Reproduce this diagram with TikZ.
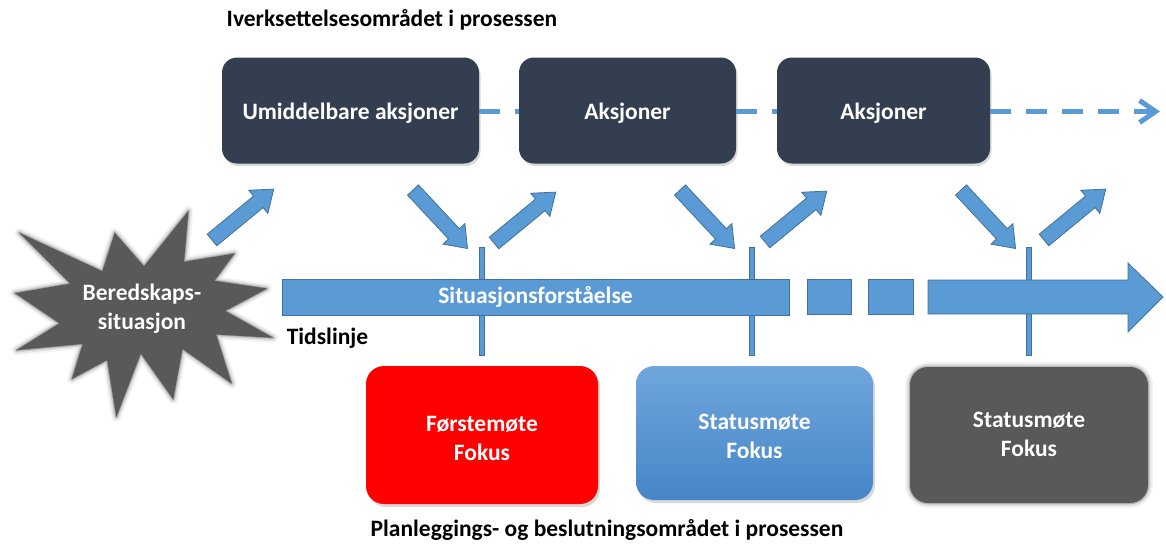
\documentclass[tikz,border=0pt]{standalone}
\usepackage{fontspec}
\setmainfont{Carlito}
\usetikzlibrary{arrows.meta,shadows}
\definecolor{darkbox}{HTML}{333F50}
\definecolor{ablue}{HTML}{5B9BD5}
\definecolor{ablueline}{HTML}{41719C}
\definecolor{starg}{HTML}{595959}
\definecolor{btop}{HTML}{6FA6DD}
\definecolor{bbot}{HTML}{4686C8}
\definecolor{redbox}{HTML}{FF0000}
\newcommand\burstpath{(108,58) -- (145.22,0) -- (141.55,53.25) -- (183.80,44.57) -- (167.02,73.15) -- (210.97,81.37) -- (176.07,104.75) -- (216,132.90) -- (168.37,129.42) -- (181.45,180.95) -- (140.20,144.57) -- (132.47,197.37) -- (105.32,149.35) -- (84.85,216) -- (77.15,156.27) -- (47.62,176.17) -- (56.67,139.37) -- (1.35,145.87) -- (37.22,117.75) -- (0,86.15) -- (46.27,76.17) -- (3.70,22.95) -- (73.12,63.20) -- (83.52,22.95) -- cycle}
\tikzset{
  barrow/.pic={\filldraw[fill=ablue, draw=ablueline, line width=0.8pt, line join=miter]
     (0,-7.5) -- (60,-7.5) -- (60,-15) -- (80,0) -- (60,15) -- (60,7.5) -- (0,7.5) -- cycle;},
  lbl/.style={font=\fontsize{23.5}{29}\selectfont\bfseries, text=white, align=center},
  ttl/.style={font=\fontsize{23.5}{29}\selectfont\bfseries, text=black, inner sep=0pt},
  actbox/.style={rounded corners=15pt, fill=darkbox, minimum height=106pt, inner sep=0pt,
     drop shadow={shadow xshift=1.5pt, shadow yshift=-2.5pt, opacity=0.3}},
  meetbox/.style={lbl, rounded corners=18pt, inner sep=0pt,
     drop shadow={shadow xshift=2pt, shadow yshift=-3pt, opacity=0.3}},
  bluepart/.style={fill=ablue, draw=ablueline, line width=0.8pt, inner sep=0pt},
  dashline/.style={draw=ablue, line width=5pt, dash pattern=on 21pt off 15pt},
}
\begin{document}
\begin{tikzpicture}[x=1pt,y=1pt]
\path[use as bounding box] (0,0) rectangle (1166,-546);

% titles
\node[ttl] (t1) at (392,-20) {Iverksettelsesområdet i prosessen};
\node[ttl] (t2) at (607,-530) {Planleggings- og beslutningsområdet i prosessen};

% action boxes
\node[actbox, minimum width=257pt] (b1) at (350.5,-110.5) {};
\node[actbox, minimum width=217pt] (b2) at (627.5,-110.5) {};
\node[actbox, minimum width=213pt] (b3) at (883.5,-110.5) {};
\node[lbl] (b1t) at ([yshift=-2.5pt]b1.center) {Umiddelbare aksjoner};
\node[lbl] (b2t) at ([yshift=-2.5pt]b2.center) {Aksjoner};
\node[lbl] (b3t) at ([yshift=-2.5pt]b3.center) {Aksjoner};
\coordinate (dend) at (1160,-111.5);
\draw[dashline] ([yshift=-1pt]b1.east) -- ([yshift=-1pt]b2.west);
\draw[dashline] ([yshift=-1pt]b2.east) -- ([yshift=-1pt]b3.west);
\draw[dashline, -{Straight Barb[length=16pt,width=22pt]}] ([yshift=-1pt]b3.east) -- (dend);

% starburst
\begin{scope}[shift={(15,-211)}, xscale=1.1944, yscale=-0.9537]
  \draw[starg, line width=10pt, opacity=0.06, line join=round] \burstpath;
  \draw[starg, line width=7pt, opacity=0.1, line join=round] \burstpath;
  \draw[starg, line width=4pt, opacity=0.2, line join=round] \burstpath;
  \draw[starg, line width=1.5pt, opacity=0.4, line join=round] \burstpath;
  \fill[starg] \burstpath;
\end{scope}
\node[lbl, text=black!70, opacity=0.5] at (143,-310) {Beredskaps-\\situasjon};
\node[lbl] (star) at (142,-309) {Beredskaps-\\situasjon};

% ticks (behind the timeline)
\node[bluepart, minimum width=5pt, minimum height=108pt] (k1) at (481.5,-301) {};
\node[bluepart, minimum width=5pt, minimum height=108pt] (k2) at (751.5,-301) {};
\node[bluepart, minimum width=5pt, minimum height=108pt] (k3) at (1028.5,-301) {};

% timeline
\node[bluepart, lbl, minimum width=507pt, minimum height=36pt] (bar) at (535.5,-297) {Situasjonsforståelse};
\node[bluepart, minimum width=44pt, minimum height=35pt] (sq1) at (829,-296.5) {};
\node[bluepart, minimum width=45pt, minimum height=35pt] (sq2) at (890.5,-296.5) {};
\filldraw[fill=ablue, draw=ablueline, line width=0.8pt]
  (928,-280) -- (1128,-280) -- (1128,-263) -- (1163,-297) -- (1128,-332) -- (1128,-314) -- (928,-314) -- cycle;
\node[ttl] (tl) at (327.5,-338) {Tidslinje};

% block arrows
\pic[rotate=39.5] at (212,-240) {barrow};
\pic[rotate=-47] at (413,-190) {barrow};
\pic[rotate=39.5] at (494,-243) {barrow};
\pic[rotate=-47] at (680,-190) {barrow};
\pic[rotate=39.5] at (765,-242) {barrow};
\pic[rotate=-47] at (961,-190) {barrow};
\pic[rotate=39.5] at (1044,-240) {barrow};

% meeting boxes
\node[meetbox, fill=redbox, minimum width=232pt, minimum height=138pt] (m1) at (482,-435) {};
\node[lbl] (m1t) at ([yshift=-3pt]m1.center) {Førstemøte\\Fokus};
\node[meetbox, top color=btop, bottom color=bbot, minimum width=237pt, minimum height=134pt] (m2) at (754.5,-433) {};
\node[lbl] (m2t) at ([yshift=-3pt]m2.center) {Statusmøte\\Fokus};
\draw[starg, line width=10pt, opacity=0.07, rounded corners=18pt] (910,-367) rectangle (1148,-503);
\draw[starg, line width=6pt, opacity=0.14, rounded corners=18pt] (910,-367) rectangle (1148,-503);
\draw[starg, line width=2.5pt, opacity=0.3, rounded corners=18pt] (910,-367) rectangle (1148,-503);
\node[fill=starg, rounded corners=18pt, minimum width=238pt, minimum height=136pt, inner sep=0pt] (m3) at (1029,-435) {};
\node[lbl, text=black!70, opacity=0.5] at (1030,-435) {Statusmøte\\Fokus};
\node[lbl] (m3t) at ([yshift=1pt]m3.center) {Statusmøte\\Fokus};
\end{tikzpicture}
\end{document}
